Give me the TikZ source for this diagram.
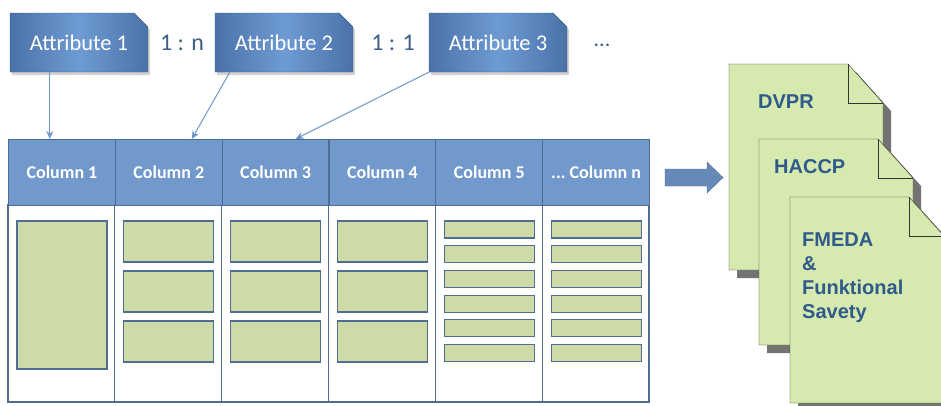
\documentclass[tikz,border=0pt]{standalone}
\usepackage{fontspec}
\setmainfont{Carlito}
\newfontfamily\docfont{Liberation Sans}
\usetikzlibrary{shapes.misc,shadows,arrows.meta}
\definecolor{attrdark}{HTML}{4A72A8}
\definecolor{attrlight}{HTML}{6E9BD3}
\definecolor{headblue}{HTML}{7199CB}
\definecolor{lineblue}{HTML}{4F6D92}
\definecolor{linkblue}{HTML}{6E96C8}
\definecolor{slotgreen}{HTML}{CEDBA8}
\definecolor{docgreen}{HTML}{D6E9AE}
\definecolor{textblue}{HTML}{2F5A8C}
\definecolor{ratioblue}{HTML}{3D5E86}
\newcommand\coldots{...}

\tikzset{docpage/.pic={
	\fill [black!55] (8,8) -- (127,8) -- (162,47) -- (162,214) -- (8,214) -- cycle;
	\draw [black!80, fill=docgreen] (0,0) -- (119,0) -- (154,39) -- (154,206) -- (0,206) -- cycle;
	\draw [black!80] (119,0) -- (119,39) -- (154,39);
}}

\begin{document}
\begin{tikzpicture}[x=1pt,y=-1pt]
	\tikzstyle{every node}+=[inner sep=0pt]
	\tikzstyle{attr}=[chamfered rectangle, chamfered rectangle corners=north east, chamfered rectangle sep=7pt, minimum width=138pt, minimum height=59pt, draw=attrdark!80!black, shading=axis, left color=attrdark, right color=attrdark, middle color=attrlight, shading angle=90, drop shadow={shadow xshift=2pt, shadow yshift=-3pt, opacity=0.35}, text=white, font=\fontsize{22.5}{26}\selectfont]
	\tikzstyle{ratio}=[text=ratioblue, font=\fontsize{24}{28}\selectfont]
	\tikzstyle{headcell}=[rectangle, draw=lineblue, line width=1.1pt, fill=headblue, minimum width=106.83pt, minimum height=66pt, text=white, font=\bfseries\fontsize{18}{21}\selectfont]
	\tikzstyle{cellline}=[draw=lineblue, line width=1.1pt]
	\tikzstyle{slot}=[draw=lineblue, line width=1.2pt, fill=slotgreen]
	\tikzstyle{link}=[draw=linkblue, line width=1pt, -{Stealth[length=8pt,width=7pt]}]
	\tikzstyle{doctext}=[text=textblue, font=\docfont\bfseries\fontsize{20}{24}\selectfont]
	\useasboundingbox (0,0) rectangle (941,405);
	% attributes on top
	\node [attr] (attr1) at (79,42.5) {Attribute 1};
	\node [attr] (attr2) at (284,42.5) {Attribute 2};
	\node [attr] (attr3) at (498,42.5) {Attribute 3};
	\node [ratio] (r12) at (182,43) {1 : n};
	\node [ratio] (r23) at (393,43) {1 : 1};
	\node [ratio, font=\fontsize{22}{26}\selectfont] (more) at (602,45) {\coldots};
	% table
	\foreach \i/\txt in {1/Column 1,2/Column 2,3/Column 3,4/Column 4,5/Column 5,6/\coldots\ Column n} {
		\pgfmathsetmacro\xl{8+106.83*(\i-1)}
		\draw [cellline, fill=white] (\xl,205) rectangle ++(106.83,197);
		\node [headcell, anchor=north west] (col\i) at (\xl,139) {\txt};
	}
	\draw [slot] (17,221) rectangle (107,369);
	\foreach \i in {2,3,4}
		\foreach \k in {0,1,2} {
			\pgfmathsetmacro\xl{8+106.83*(\i-1)}
			\draw [slot] (\xl+9,221+50*\k) rectangle (\xl+99,262+50*\k);
		}
	\foreach \i in {5,6}
		\foreach \k in {0,1,2,3,4,5} {
			\pgfmathsetmacro\xl{8+106.83*(\i-1)}
			\draw [slot] (\xl+9,221+24.7*\k) rectangle (\xl+99,238+24.7*\k);
		}
	% attribute -> column
	\draw [link] ([xshift=40pt]attr1.south west) -- ([xshift=40pt]attr1.south west |- col1.north);
	\draw [link] ([xshift=15pt]attr2.south west) -- ([xshift=23pt]col2.north);
	\draw [link] (attr3.south west) -- ([xshift=20pt]col3.north);
	% conversion arrow
	\draw [lineblue, fill=linkblue!92!black] (665,169) -- (707,169) -- (707,162) -- (723,177.5) -- (707,193) -- (707,186) -- (665,186) -- cycle;
	% documents
	\pic at (729,64) {docpage};
	\pic at (759,139) {docpage};
	\pic at (790,197) {docpage};
	\node [doctext, anchor=west] (dvpr) at (758,102) {DVPR};
	\node [doctext, anchor=west] (haccp) at (774,167) {HACCP};
	\node [doctext, anchor=north west, align=left] (fmeda) at (802,233) {FMEDA\\\&\\Funktional\\Savety};
\end{tikzpicture}
\end{document}
